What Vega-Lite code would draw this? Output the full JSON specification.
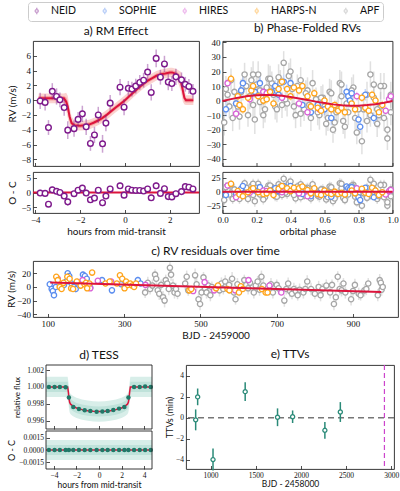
{
"$schema": "https://vega.github.io/schema/vega-lite/v6.json",
"padding": {"left": 5, "top": 1, "right": 0, "bottom": 0},
"config": {
  "view": {"stroke": "#222", "strokeWidth": 0.9},
  "axis": {"grid": false, "domain": false, "tickColor": "#222", "tickSize": -3.5, "tickWidth": 0.8, "labelFont": "Liberation Serif", "labelFontSize": 9, "labelColor": "#111", "labelPadding": 6, "labelFlush": false, "labelOverlap": false, "titleFont": "Lato", "titleFontSize": 10, "titleFontWeight": "normal", "titleColor": "#111", "titlePadding": 2},
  "title": {"font": "Lato", "fontSize": 12, "fontWeight": "normal", "color": "#111", "offset": 3}
},
"datasets": {
  "rm": [
    {"i":"NEID","h":-3.78,"v":-0.1,"e":1.1,"r":-0.2},{"i":"NEID","h":-3.56,"v":-0.3,"e":1.1,"r":-0.3},{"i":"NEID","h":-3.41,"v":-3.7,"e":1.0,"r":-4.0},{"i":"NEID","h":-3.24,"v":1.2,"e":1.1,"r":0.9},{"i":"NEID","h":-3.05,"v":0.5,"e":1.1,"r":0.4},{"i":"NEID","h":-2.9,"v":0.05,"e":1.0,"r":0.0},{"i":"NEID","h":-2.71,"v":-1.0,"e":1.1,"r":-1.2},{"i":"NEID","h":-2.55,"v":-4.05,"e":1.2,"r":-3.2},{"i":"NEID","h":-2.27,"v":-3.85,"e":1.1,"r":-0.4},{"i":"NEID","h":-2.09,"v":-2.6,"e":1.0,"r":0.8},{"i":"NEID","h":-1.9,"v":-1.85,"e":1.1,"r":1.5},{"i":"NEID","h":-1.73,"v":-3.6,"e":1.1,"r":-0.2},{"i":"NEID","h":-1.54,"v":-5.85,"e":1.0,"r":-2.5},{"i":"NEID","h":-1.36,"v":-4.7,"e":1.1,"r":-1.9},{"i":"NEID","h":-1.19,"v":-2.0,"e":1.1,"r":0.8},{"i":"NEID","h":-1.0,"v":-5.9,"e":1.2,"r":-3.5},{"i":"NEID","h":-0.85,"v":-3.1,"e":1.1,"r":-1.2},{"i":"NEID","h":-0.66,"v":-0.4,"e":1.1,"r":1.2},{"i":"NEID","h":-0.22,"v":1.75,"e":1.1,"r":2.3},{"i":"NEID","h":-0.04,"v":-0.95,"e":1.1,"r":-0.9},{"i":"NEID","h":0.15,"v":1.6,"e":1.0,"r":1.2},{"i":"NEID","h":0.31,"v":1.5,"e":1.0,"r":0.8},{"i":"NEID","h":0.48,"v":1.9,"e":1.0,"r":0.7},{"i":"NEID","h":0.66,"v":2.4,"e":1.0,"r":0.7},{"i":"NEID","h":0.83,"v":2.7,"e":1.0,"r":0.5},{"i":"NEID","h":1.01,"v":3.8,"e":1.1,"r":1.2},{"i":"NEID","h":1.17,"v":1.05,"e":1.1,"r":-1.8},{"i":"NEID","h":1.39,"v":5.65,"e":1.2,"r":2.3},{"i":"NEID","h":1.58,"v":3.1,"e":1.0,"r":-0.3},{"i":"NEID","h":1.76,"v":4.9,"e":1.1,"r":1.3},{"i":"NEID","h":1.93,"v":2.45,"e":1.1,"r":-1.4},{"i":"NEID","h":2.09,"v":2.25,"e":1.0,"r":-1.5},{"i":"NEID","h":2.27,"v":3.15,"e":1.1,"r":-0.4},{"i":"NEID","h":2.52,"v":2.75,"e":1.0,"r":0.3},{"i":"NEID","h":2.69,"v":2.15,"e":1.0,"r":2.0},{"i":"NEID","h":2.85,"v":1.85,"e":1.0,"r":1.8},{"i":"NEID","h":3.03,"v":1.2,"e":1.0,"r":1.2}
  ],
  "rmm": [
    {"h":-3.85,"m":0.25,"l1":-0.05,"u1":0.55,"l2":-0.4,"u2":0.9},{"h":-3.2,"m":0.25,"l1":-0.05,"u1":0.55,"l2":-0.4,"u2":0.9},{"h":-2.72,"m":0.25,"l1":-0.05,"u1":0.55,"l2":-0.4,"u2":0.9},{"h":-2.62,"m":-0.2,"l1":-0.8,"u1":0.4,"l2":-1.4,"u2":1.0},{"h":-2.55,"m":-0.9,"l1":-1.7,"u1":-0.1,"l2":-2.4,"u2":0.6},{"h":-2.47,"m":-2.2,"l1":-2.9,"u1":-1.5,"l2":-3.5,"u2":-0.9},{"h":-2.38,"m":-3.1,"l1":-3.5,"u1":-2.7,"l2":-3.9,"u2":-2.2},{"h":-2.25,"m":-3.4,"l1":-3.7,"u1":-3.1,"l2":-4.05,"u2":-2.75},{"h":-2.0,"m":-3.45,"l1":-3.75,"u1":-3.15,"l2":-4.1,"u2":-2.8},{"h":-1.8,"m":-3.4,"l1":-3.7,"u1":-3.1,"l2":-4.05,"u2":-2.75},{"h":-1.6,"m":-3.3,"l1":-3.6,"u1":-3.0,"l2":-3.95,"u2":-2.65},{"h":-1.4,"m":-3.05,"l1":-3.35,"u1":-2.75,"l2":-3.7,"u2":-2.4},{"h":-1.2,"m":-2.75,"l1":-3.05,"u1":-2.45,"l2":-3.4,"u2":-2.1},{"h":-1.0,"m":-2.4,"l1":-2.7,"u1":-2.1,"l2":-3.05,"u2":-1.75},{"h":-0.8,"m":-1.95,"l1":-2.25,"u1":-1.65,"l2":-2.6,"u2":-1.3},{"h":-0.6,"m":-1.45,"l1":-1.75,"u1":-1.15,"l2":-2.1,"u2":-0.8},{"h":-0.4,"m":-0.95,"l1":-1.25,"u1":-0.65,"l2":-1.6,"u2":-0.3},{"h":-0.2,"m":-0.5,"l1":-0.8,"u1":-0.2,"l2":-1.15,"u2":0.15},{"h":0.0,"m":0.0,"l1":-0.3,"u1":0.3,"l2":-0.65,"u2":0.65},{"h":0.2,"m":0.55,"l1":0.25,"u1":0.85,"l2":-0.1,"u2":1.2},{"h":0.4,"m":1.1,"l1":0.8,"u1":1.4,"l2":0.45,"u2":1.75},{"h":0.6,"m":1.65,"l1":1.35,"u1":1.95,"l2":1.0,"u2":2.3},{"h":0.8,"m":2.15,"l1":1.85,"u1":2.45,"l2":1.5,"u2":2.8},{"h":1.0,"m":2.6,"l1":2.3,"u1":2.9,"l2":1.95,"u2":3.25},{"h":1.2,"m":2.95,"l1":2.65,"u1":3.25,"l2":2.3,"u2":3.6},{"h":1.4,"m":3.3,"l1":3.0,"u1":3.6,"l2":2.65,"u2":3.95},{"h":1.6,"m":3.5,"l1":3.2,"u1":3.8,"l2":2.85,"u2":4.15},{"h":1.8,"m":3.6,"l1":3.3,"u1":3.9,"l2":2.95,"u2":4.25},{"h":2.0,"m":3.75,"l1":3.45,"u1":4.05,"l2":3.1,"u2":4.4},{"h":2.1,"m":3.75,"l1":3.45,"u1":4.05,"l2":3.1,"u2":4.4},{"h":2.27,"m":3.55,"l1":3.2,"u1":3.9,"l2":2.85,"u2":4.25},{"h":2.4,"m":3.1,"l1":2.6,"u1":3.6,"l2":2.1,"u2":4.0},{"h":2.5,"m":2.5,"l1":1.8,"u1":3.2,"l2":1.1,"u2":3.8},{"h":2.58,"m":1.3,"l1":0.5,"u1":2.1,"l2":-0.2,"u2":2.9},{"h":2.65,"m":0.3,"l1":-0.2,"u1":0.8,"l2":-0.6,"u2":1.4},{"h":2.72,"m":0.0,"l1":-0.3,"u1":0.3,"l2":-0.65,"u2":0.65},{"h":3.05,"m":0.0,"l1":-0.3,"u1":0.3,"l2":-0.65,"u2":0.65}
  ],
  "rv": [
    {"i":"APF","t":355,"c":-8,"p":0.03,"v":4,"o":4,"e":8},{"i":"APF","t":362,"c":6,"p":0.06,"v":-12,"o":-13,"e":9},{"i":"APF","t":368,"c":-3,"p":0.09,"v":-4,"o":-6,"e":8},{"i":"APF","t":374,"c":2,"p":0.12,"v":9,"o":6,"e":9},{"i":"APF","t":381,"c":18,"p":0.14,"v":10,"o":7,"e":8},{"i":"APF","t":384,"c":12,"p":0.17,"v":14,"o":10,"e":9},{"i":"APF","t":388,"c":-5,"p":0.19,"v":-13,"o":-17,"e":10},{"i":"APF","t":392,"c":-10,"p":0.21,"v":18,"o":14,"e":9},{"i":"APF","t":397,"c":3,"p":0.23,"v":2,"o":-2,"e":8},{"i":"APF","t":402,"c":-15,"p":0.25,"v":-6,"o":-10,"e":9},{"i":"APF","t":406,"c":-20,"p":0.27,"v":15,"o":11,"e":10},{"i":"APF","t":409,"c":10,"p":0.29,"v":12,"o":8,"e":8},{"i":"APF","t":413,"c":5,"p":0.31,"v":-4,"o":-8,"e":9},{"i":"APF","t":417,"c":-3,"p":0.33,"v":16,"o":13,"e":9},{"i":"APF","t":420,"c":28,"p":0.36,"v":26,"o":23,"e":8},{"i":"APF","t":423,"c":18,"p":0.38,"v":-2,"o":-4,"e":9},{"i":"APF","t":428,"c":2,"p":0.41,"v":8,"o":6,"e":10},{"i":"APF","t":432,"c":-8,"p":0.43,"v":-10,"o":-12,"e":9},{"i":"APF","t":436,"c":-3,"p":0.46,"v":14,"o":13,"e":9},{"i":"APF","t":440,"c":-10,"p":0.48,"v":-6,"o":-7,"e":8},{"i":"APF","t":460,"c":5,"p":0.5,"v":7,"o":7,"e":9},{"i":"APF","t":464,"c":15,"p":0.52,"v":-12,"o":-12,"e":9},{"i":"APF","t":468,"c":-5,"p":0.55,"v":1,"o":2,"e":8},{"i":"APF","t":486,"c":17,"p":0.57,"v":-10,"o":-9,"e":10},{"i":"APF","t":490,"c":4,"p":0.59,"v":2,"o":4,"e":9},{"i":"APF","t":495,"c":-18,"p":0.61,"v":-16,"o":-14,"e":8},{"i":"APF","t":499,"c":-25,"p":0.63,"v":6,"o":9,"e":9},{"i":"APF","t":503,"c":-8,"p":0.65,"v":-20,"o":-17,"e":9},{"i":"APF","t":508,"c":14,"p":0.67,"v":-8,"o":-5,"e":8},{"i":"APF","t":512,"c":-2,"p":0.69,"v":12,"o":15,"e":9},{"i":"APF","t":516,"c":-8,"p":0.71,"v":-14,"o":-11,"e":9},{"i":"APF","t":521,"c":2,"p":0.73,"v":-2,"o":2,"e":8},{"i":"APF","t":526,"c":-12,"p":0.77,"v":9,"o":12,"e":9},{"i":"APF","t":530,"c":0,"p":0.79,"v":-22,"o":-19,"e":8},{"i":"APF","t":550,"c":-5,"p":0.83,"v":-6,"o":-3,"e":9},{"i":"APF","t":555,"c":5,"p":0.85,"v":4,"o":7,"e":9},{"i":"APF","t":560,"c":-3,"p":0.87,"v":-10,"o":-7,"e":8},{"i":"APF","t":565,"c":8,"p":0.89,"v":11,"o":14,"e":9},{"i":"APF","t":575,"c":3,"p":0.91,"v":-16,"o":-13,"e":9},{"i":"APF","t":583,"c":12,"p":0.93,"v":-4,"o":-3,"e":10},{"i":"APF","t":588,"c":-8,"p":0.95,"v":10,"o":12,"e":9},{"i":"APF","t":592,"c":-18,"p":0.97,"v":-26,"o":-25,"e":8},{"i":"APF","t":597,"c":4,"p":0.99,"v":-8,"o":-8,"e":9},{"i":"APF","t":602,"c":-5,"p":0.02,"v":8,"o":8,"e":9},{"i":"APF","t":615,"c":10,"p":0.04,"v":-4,"o":-5,"e":8},{"i":"APF","t":620,"c":3,"p":0.07,"v":6,"o":4,"e":9},{"i":"APF","t":625,"c":-2,"p":0.1,"v":-11,"o":-13,"e":9},{"i":"APF","t":630,"c":6,"p":0.13,"v":18,"o":15,"e":8},{"i":"APF","t":640,"c":-8,"p":0.16,"v":3,"o":0,"e":9},{"i":"APF","t":645,"c":2,"p":0.18,"v":-3,"o":-6,"e":9},{"i":"APF","t":650,"c":8,"p":0.2,"v":11,"o":7,"e":8},{"i":"APF","t":655,"c":-4,"p":0.22,"v":7,"o":3,"e":9},{"i":"APF","t":660,"c":15,"p":0.24,"v":-10,"o":-14,"e":9},{"i":"APF","t":665,"c":2,"p":0.28,"v":15,"o":11,"e":9},{"i":"APF","t":680,"c":-5,"p":0.3,"v":4,"o":0,"e":8},{"i":"APF","t":685,"c":4,"p":0.32,"v":-6,"o":-9,"e":9},{"i":"APF","t":690,"c":-8,"p":0.34,"v":12,"o":9,"e":9},{"i":"APF","t":700,"c":3,"p":0.37,"v":1,"o":-2,"e":8},{"i":"APF","t":705,"c":-2,"p":0.39,"v":17,"o":15,"e":9},{"i":"APF","t":720,"c":-20,"p":0.42,"v":-4,"o":-6,"e":9},{"i":"APF","t":725,"c":-3,"p":0.44,"v":10,"o":9,"e":8},{"i":"APF","t":730,"c":5,"p":0.46,"v":-9,"o":-10,"e":9},{"i":"APF","t":735,"c":-6,"p":0.49,"v":5,"o":5,"e":9},{"i":"APF","t":740,"c":-10,"p":0.51,"v":-3,"o":-3,"e":8},{"i":"APF","t":745,"c":-3,"p":0.53,"v":12,"o":13,"e":9},{"i":"APF","t":750,"c":-6,"p":0.56,"v":-8,"o":-7,"e":9},{"i":"APF","t":755,"c":-12,"p":0.58,"v":2,"o":4,"e":8},{"i":"APF","t":760,"c":-4,"p":0.62,"v":-12,"o":-10,"e":9},{"i":"APF","t":770,"c":-8,"p":0.64,"v":5,"o":8,"e":9},{"i":"APF","t":775,"c":-3,"p":0.66,"v":-15,"o":-12,"e":8},{"i":"APF","t":780,"c":8,"p":0.68,"v":-6,"o":-3,"e":9},{"i":"APF","t":790,"c":-3,"p":0.7,"v":3,"o":6,"e":9},{"i":"APF","t":800,"c":-10,"p":0.72,"v":-18,"o":-15,"e":8},{"i":"APF","t":810,"c":0,"p":0.74,"v":-8,"o":-5,"e":9},{"i":"APF","t":815,"c":-12,"p":0.76,"v":7,"o":11,"e":9},{"i":"APF","t":820,"c":-3,"p":0.78,"v":-12,"o":-9,"e":8},{"i":"APF","t":830,"c":2,"p":0.8,"v":-6,"o":-3,"e":9},{"i":"APF","t":840,"c":-8,"p":0.82,"v":-28,"o":-25,"e":9},{"i":"APF","t":845,"c":3,"p":0.85,"v":-14,"o":-11,"e":8},{"i":"APF","t":850,"c":-25,"p":0.87,"v":18,"o":21,"e":9},{"i":"APF","t":855,"c":-15,"p":0.89,"v":2,"o":5,"e":9},{"i":"APF","t":860,"c":15,"p":0.91,"v":-6,"o":-4,"e":8},{"i":"APF","t":865,"c":-3,"p":0.93,"v":10,"o":12,"e":9},{"i":"APF","t":870,"c":-5,"p":0.95,"v":-12,"o":-10,"e":9},{"i":"APF","t":875,"c":5,"p":0.97,"v":-20,"o":-19,"e":8},{"i":"APF","t":880,"c":-8,"p":0.99,"v":4,"o":4,"e":9},{"i":"APF","t":895,"c":-18,"p":0.01,"v":-15,"o":-15,"e":9},{"i":"APF","t":900,"c":-6,"p":0.05,"v":14,"o":13,"e":8},{"i":"APF","t":905,"c":3,"p":0.08,"v":-2,"o":-4,"e":9},{"i":"APF","t":915,"c":-10,"p":0.11,"v":6,"o":4,"e":9},{"i":"APF","t":920,"c":-12,"p":0.15,"v":-10,"o":-13,"e":8},{"i":"APF","t":930,"c":-5,"p":0.18,"v":18,"o":14,"e":9},{"i":"APF","t":935,"c":-3,"p":0.22,"v":-1,"o":-5,"e":9},{"i":"APF","t":940,"c":5,"p":0.26,"v":9,"o":5,"e":8},{"i":"APF","t":965,"c":-12,"p":0.35,"v":-3,"o":-6,"e":9},{"i":"APF","t":970,"c":10,"p":0.4,"v":20,"o":18,"e":9},{"i":"APF","t":973,"c":6,"p":0.6,"v":-4,"o":-2,"e":8},{"i":"APF","t":975,"c":-4,"p":0.7,"v":11,"o":14,"e":9},{"i":"APF","t":978,"c":0,"p":0.92,"v":-10,"o":-8,"e":9},
    {"i":"SOPHIE","t":105,"c":4,"p":0.02,"v":-6,"o":-6,"e":5},{"i":"SOPHIE","t":110,"c":-3,"p":0.11,"v":7,"o":5,"e":5},{"i":"SOPHIE","t":113,"c":-6,"p":0.08,"v":-2,"o":-4,"e":5},{"i":"SOPHIE","t":116,"c":-12,"p":0.64,"v":-12,"o":-9,"e":5},{"i":"SOPHIE","t":121,"c":0,"p":0.19,"v":6,"o":2,"e":4},{"i":"SOPHIE","t":142,"c":3,"p":0.22,"v":12,"o":8,"e":5},{"i":"SOPHIE","t":148,"c":8,"p":0.29,"v":6,"o":2,"e":4},{"i":"SOPHIE","t":152,"c":20,"p":0.31,"v":10,"o":6,"e":4},{"i":"SOPHIE","t":156,"c":16,"p":0.36,"v":13,"o":10,"e":5},{"i":"SOPHIE","t":162,"c":5,"p":0.4,"v":12,"o":10,"e":5},{"i":"SOPHIE","t":168,"c":0,"p":0.47,"v":-3,"o":-4,"e":4},{"i":"SOPHIE","t":173,"c":-3,"p":0.33,"v":4,"o":1,"e":5},{"i":"SOPHIE","t":178,"c":7,"p":0.6,"v":-6,"o":-4,"e":4},{"i":"SOPHIE","t":186,"c":4,"p":0.73,"v":6,"o":9,"e":5},{"i":"SOPHIE","t":192,"c":18,"p":0.74,"v":3,"o":6,"e":5},{"i":"SOPHIE","t":197,"c":16,"p":0.75,"v":0,"o":4,"e":5},{"i":"SOPHIE","t":202,"c":12,"p":0.76,"v":5,"o":8,"e":4},{"i":"SOPHIE","t":206,"c":2,"p":0.8,"v":-13,"o":-10,"e":4},{"i":"SOPHIE","t":211,"c":-1,"p":0.81,"v":-18,"o":-15,"e":5},{"i":"SOPHIE","t":242,"c":10,"p":0.89,"v":-12,"o":-10,"e":4},{"i":"SOPHIE","t":268,"c":-5,"p":0.52,"v":-8,"o":-8,"e":5},{"i":"SOPHIE","t":292,"c":4,"p":0.56,"v":-3,"o":-2,"e":4},{"i":"SOPHIE","t":336,"c":10,"p":0.12,"v":12,"o":10,"e":5},{"i":"SOPHIE","t":343,"c":5,"p":0.84,"v":4,"o":7,"e":4},
    {"i":"HIRES","t":126,"c":12,"p":0.03,"v":12,"o":11,"e":3},{"i":"HIRES","t":191,"c":10,"p":0.08,"v":-9,"o":-10,"e":3},{"i":"HIRES","t":211,"c":-2,"p":0.16,"v":1,"o":-2,"e":3},{"i":"HIRES","t":231,"c":9,"p":0.24,"v":6,"o":2,"e":3},{"i":"HIRES","t":266,"c":8,"p":0.26,"v":5,"o":1,"e":3},{"i":"HIRES","t":356,"c":3,"p":0.5,"v":-8,"o":-8,"e":3},{"i":"HIRES","t":481,"c":-6,"p":0.57,"v":-6,"o":-5,"e":3},{"i":"HIRES","t":511,"c":7,"p":0.79,"v":3,"o":6,"e":3},{"i":"HIRES","t":536,"c":-5,"p":0.96,"v":-7,"o":-5,"e":3},{"i":"HIRES","t":591,"c":-5,"p":0.98,"v":1,"o":1,"e":3},{"i":"HIRES","t":626,"c":10,"p":0.99,"v":3,"o":3,"e":3},{"i":"HIRES","t":681,"c":2,"p":0.35,"v":2,"o":-1,"e":3},{"i":"HIRES","t":712,"c":-8,"p":0.45,"v":-2,"o":-3,"e":3},
    {"i":"HARPS-N","t":122,"c":15,"p":0.05,"v":15,"o":14,"e":3},{"i":"HARPS-N","t":126,"c":10,"p":0.09,"v":3,"o":1,"e":3},{"i":"HARPS-N","t":131,"c":0,"p":0.1,"v":-3,"o":-5,"e":3},{"i":"HARPS-N","t":136,"c":-3,"p":0.12,"v":-6,"o":-8,"e":3},{"i":"HARPS-N","t":141,"c":6,"p":0.15,"v":2,"o":-1,"e":3},{"i":"HARPS-N","t":151,"c":15,"p":0.17,"v":7,"o":4,"e":3},{"i":"HARPS-N","t":157,"c":12,"p":0.21,"v":3,"o":-1,"e":3},{"i":"HARPS-N","t":161,"c":-2,"p":0.24,"v":0,"o":-4,"e":3},{"i":"HARPS-N","t":166,"c":-3,"p":0.26,"v":1,"o":-3,"e":3},{"i":"HARPS-N","t":176,"c":8,"p":0.28,"v":6,"o":2,"e":3},{"i":"HARPS-N","t":186,"c":2,"p":0.3,"v":-2,"o":-6,"e":3},{"i":"HARPS-N","t":196,"c":4,"p":0.33,"v":8,"o":5,"e":3},{"i":"HARPS-N","t":200,"c":6,"p":0.18,"v":10,"o":6,"e":3},{"i":"HARPS-N","t":203,"c":-2,"p":0.35,"v":13,"o":10,"e":3},{"i":"HARPS-N","t":209,"c":5,"p":0.38,"v":8,"o":6,"e":3},{"i":"HARPS-N","t":216,"c":21,"p":0.4,"v":3,"o":1,"e":3},{"i":"HARPS-N","t":251,"c":5,"p":0.42,"v":9,"o":7,"e":3},{"i":"HARPS-N","t":262,"c":8,"p":0.45,"v":7,"o":6,"e":3},{"i":"HARPS-N","t":281,"c":5,"p":0.47,"v":10,"o":9,"e":3},{"i":"HARPS-N","t":289,"c":17,"p":0.5,"v":3,"o":3,"e":3},{"i":"HARPS-N","t":295,"c":12,"p":0.52,"v":-4,"o":-3,"e":3},{"i":"HARPS-N","t":301,"c":-2,"p":0.54,"v":5,"o":6,"e":3},{"i":"HARPS-N","t":305,"c":8,"p":0.56,"v":-5,"o":-4,"e":3},{"i":"HARPS-N","t":310,"c":3,"p":0.58,"v":-7,"o":-6,"e":3},{"i":"HARPS-N","t":316,"c":5,"p":0.6,"v":0,"o":2,"e":3},{"i":"HARPS-N","t":321,"c":2,"p":0.62,"v":-4,"o":-2,"e":3},{"i":"HARPS-N","t":326,"c":0,"p":0.64,"v":-6,"o":-4,"e":3},{"i":"HARPS-N","t":331,"c":5,"p":0.66,"v":-3,"o":0,"e":3},{"i":"HARPS-N","t":471,"c":-5,"p":0.68,"v":-7,"o":-4,"e":3},{"i":"HARPS-N","t":476,"c":-3,"p":0.7,"v":-5,"o":-2,"e":3},{"i":"HARPS-N","t":541,"c":-2,"p":0.72,"v":-8,"o":-5,"e":3},{"i":"HARPS-N","t":546,"c":2,"p":0.76,"v":-2,"o":2,"e":3},{"i":"HARPS-N","t":571,"c":-3,"p":0.78,"v":-6,"o":-3,"e":3},{"i":"HARPS-N","t":576,"c":-5,"p":0.82,"v":2,"o":5,"e":3},{"i":"HARPS-N","t":601,"c":-8,"p":0.84,"v":-5,"o":-2,"e":3},{"i":"HARPS-N","t":606,"c":1,"p":0.86,"v":-7,"o":-4,"e":3},{"i":"HARPS-N","t":611,"c":-3,"p":0.88,"v":4,"o":7,"e":3},{"i":"HARPS-N","t":661,"c":-3,"p":0.9,"v":0,"o":2,"e":3},{"i":"HARPS-N","t":671,"c":-8,"p":0.92,"v":-8,"o":-6,"e":3},{"i":"HARPS-N","t":676,"c":-8,"p":0.94,"v":-3,"o":-1,"e":3}
  ],
  "orb": [
    {"p":0.0,"m":-0.3},{"p":0.05,"m":1.0},{"p":0.1,"m":2.2},{"p":0.15,"m":3.1},{"p":0.2,"m":3.7},{"p":0.25,"m":3.9},{"p":0.3,"m":3.8},{"p":0.35,"m":3.3},{"p":0.4,"m":2.5},{"p":0.45,"m":1.5},{"p":0.5,"m":0.4},{"p":0.55,"m":-0.7},{"p":0.6,"m":-1.7},{"p":0.65,"m":-2.6},{"p":0.7,"m":-3.2},{"p":0.75,"m":-3.5},{"p":0.8,"m":-3.5},{"p":0.85,"m":-3.1},{"p":0.9,"m":-2.5},{"p":0.95,"m":-1.5},{"p":1.0,"m":-0.3}
  ],
  "zero": [{"y": 0}],
  "trend": [{"t": 106, "y": 6.5}, {"t": 974, "y": -7.5}],
  "tm": [
    {"h":-4.55,"f":1.0},{"h":-2.78,"f":1.0},{"h":-2.72,"f":0.9994},{"h":-2.66,"f":0.9986},{"h":-2.6,"f":0.99815},{"h":-2.52,"f":0.99795},{"h":-2.3,"f":0.99772},{"h":-2.0,"f":0.9975},{"h":-1.5,"f":0.9973},{"h":-1.0,"f":0.99718},{"h":-0.5,"f":0.9971},{"h":0,"f":0.99707},{"h":0.5,"f":0.9971},{"h":1.0,"f":0.99718},{"h":1.5,"f":0.9973},{"h":2.0,"f":0.9975},{"h":2.3,"f":0.99772},{"h":2.52,"f":0.99795},{"h":2.6,"f":0.99815},{"h":2.66,"f":0.9986},{"h":2.72,"f":0.9994},{"h":2.78,"f":1.0},{"h":4.6,"f":1.0}
  ],
  "tb": [
    {"h":-4.7,"l2":0.9988,"u2":1.0012,"l1":0.9994,"u1":1.0006},{"h":-2.78,"l2":0.9988,"u2":1.0012,"l1":0.9994,"u1":1.0006},{"h":-2.72,"l2":0.9982,"u2":1.0006,"l1":0.9988,"u1":1.0},{"h":-2.66,"l2":0.9974,"u2":0.9998,"l1":0.998,"u1":0.9992},{"h":-2.6,"l2":0.99695,"u2":0.99935,"l1":0.99755,"u1":0.99875},{"h":-2.52,"l2":0.99675,"u2":0.99915,"l1":0.99735,"u1":0.99855},{"h":-2.3,"l2":0.99652,"u2":0.99892,"l1":0.99712,"u1":0.99832},{"h":-2.0,"l2":0.9963,"u2":0.9987,"l1":0.9969,"u1":0.9981},{"h":-1.5,"l2":0.9961,"u2":0.9985,"l1":0.9967,"u1":0.9979},{"h":-1.0,"l2":0.99598,"u2":0.99838,"l1":0.99658,"u1":0.99778},{"h":-0.5,"l2":0.9959,"u2":0.9983,"l1":0.9965,"u1":0.9977},{"h":0,"l2":0.99587,"u2":0.99827,"l1":0.99647,"u1":0.99767},{"h":0.5,"l2":0.9959,"u2":0.9983,"l1":0.9965,"u1":0.9977},{"h":1.0,"l2":0.99598,"u2":0.99838,"l1":0.99658,"u1":0.99778},{"h":1.5,"l2":0.9961,"u2":0.9985,"l1":0.9967,"u1":0.9979},{"h":2.0,"l2":0.9963,"u2":0.9987,"l1":0.9969,"u1":0.9981},{"h":2.3,"l2":0.99652,"u2":0.99892,"l1":0.99712,"u1":0.99832},{"h":2.52,"l2":0.99675,"u2":0.99915,"l1":0.99735,"u1":0.99855},{"h":2.6,"l2":0.99695,"u2":0.99935,"l1":0.99755,"u1":0.99875},{"h":2.66,"l2":0.9974,"u2":0.9998,"l1":0.998,"u1":0.9992},{"h":2.72,"l2":0.9982,"u2":1.0006,"l1":0.9988,"u1":1.0},{"h":2.78,"l2":0.9988,"u2":1.0012,"l1":0.9994,"u1":1.0006},{"h":4.7,"l2":0.9988,"u2":1.0012,"l1":0.9994,"u1":1.0006}
  ],
  "tlb": [{"h":-4.7,"l2":-0.0012,"u2":0.0012,"l1":-0.0006,"u1":0.0006},{"h":4.7,"l2":-0.0012,"u2":0.0012,"l1":-0.0006,"u1":0.0006}],
  "tbin": [
    {"h":-4.44,"f":1.0,"r":0},{"h":-3.94,"f":1.0,"r":0},{"h":-3.47,"f":1.0,"r":0},{"h":-2.96,"f":0.99995,"r":0},{"h":-2.67,"f":0.99875,"r":0},{"h":-2.28,"f":0.9976,"r":0},{"h":-1.78,"f":0.99737,"r":0},{"h":-1.27,"f":0.99722,"r":0},{"h":-0.77,"f":0.99714,"r":0},{"h":-0.21,"f":0.99705,"r":0},{"h":0.3,"f":0.99707,"r":0},{"h":0.77,"f":0.99714,"r":0},{"h":1.27,"f":0.99725,"r":0},{"h":1.78,"f":0.99742,"r":0},{"h":2.25,"f":0.99762,"r":0},{"h":2.61,"f":0.99875,"r":0},{"h":3.11,"f":0.99998,"r":0},{"h":3.61,"f":1.0,"r":0},{"h":4.09,"f":1.00005,"r":0},{"h":4.59,"f":1.0,"r":0}
  ],
  "ttv": [
    {"x":835,"y":-0.2,"e":1.0},{"x":857,"y":2.0,"e":0.8},{"x":1027,"y":-4.0,"e":1.05},{"x":1383,"y":2.5,"e":0.9},{"x":1741,"y":0.05,"e":0.85},{"x":1908,"y":0.1,"e":0.6},{"x":2265,"y":-1.2,"e":0.8},{"x":2436,"y":0.55,"e":0.95}
  ],
  "epoch": [{"x": 2924}]
},
"resolve": {"scale": {"color": "shared"}, "legend": {"color": "shared"}},
"columns": 1,
"spacing": 7,
"concat": [
  {
    "concat": [
      {
        "vconcat": [
          {
            "title": "a) RM Effect",
            "width": 166, "height": 125,
            "layer": [
              {"data": {"name": "rmm"}, "mark": {"type": "area", "color": "#fbd3d0", "opacity": 1},
               "encoding": {
                 "x": {"field": "h", "type": "quantitative", "scale": {"domain": [-4.1, 3.3], "nice": false, "zero": false}, "axis": {"labels": false, "title": null, "values": [-4, -2, 0, 2], "tickCount": 20}},
                 "y": {"field": "l2", "type": "quantitative", "title": "RV (m/s)", "scale": {"domain": [-8.9, 8.0], "nice": false, "zero": false}, "axis": {"title": "RV (m/s)", "values": [-8, -6, -4, -2, 0, 2, 4, 6], "tickCount": 20, "format": "d", "labelOverlap": false, "minExtent": 14, "maxExtent": 14}},
                 "y2": {"field": "u2"}}},
              {"data": {"name": "rmm"}, "mark": {"type": "area", "color": "#f6a3a0", "opacity": 1},
               "encoding": {"x": {"field": "h", "type": "quantitative"}, "y": {"field": "l1", "type": "quantitative", "title": "RV (m/s)"}, "y2": {"field": "u1"}}},
              {"data": {"name": "rmm"}, "mark": {"type": "line", "color": "#dc143c", "strokeWidth": 2},
               "encoding": {"x": {"field": "h", "type": "quantitative"}, "y": {"field": "m", "type": "quantitative", "title": "RV (m/s)"}}},
              {"data": {"name": "rm"}, "mark": {"type": "errorbar", "opacity": 0.4, "thickness": 1.5},
               "encoding": {"x": {"field": "h", "type": "quantitative"}, "y": {"field": "v", "type": "quantitative", "title": "RV (m/s)"}, "yError": {"field": "e"},
                 "color": {"field": "i", "type": "nominal", "scale": {"domain": ["NEID", "SOPHIE", "HIRES", "HARPS-N", "APF"], "range": ["#7e1a8c", "#5b8def", "#d95fd6", "#ffa41b", "#a6a6a6"]}}}},
              {"data": {"name": "rm"}, "mark": {"type": "point", "shape": "circle", "filled": false, "fill": "white", "strokeWidth": 1.4, "size": 32, "opacity": 1},
               "encoding": {"x": {"field": "h", "type": "quantitative"}, "y": {"field": "v", "type": "quantitative", "title": "RV (m/s)"},
                 "color": {"field": "i", "type": "nominal", "scale": {"domain": ["NEID", "SOPHIE", "HIRES", "HARPS-N", "APF"], "range": ["#7e1a8c", "#5b8def", "#d95fd6", "#ffa41b", "#a6a6a6"]},
                   "legend": {"title": null, "orient": "none", "legendX": -5, "legendY": -39, "direction": "horizontal", "columns": 5, "columnPadding": 23, "symbolType": "M-0.5,0A0.5,0.5,0,1,1,0.5,0A0.5,0.5,0,1,1,-0.5,0ZM0,-0.5L0,-1.1M0,0.5L0,1.1", "symbolSize": 36, "symbolStrokeWidth": 1.5, "symbolFillColor": "white", "labelFont": "Lato", "labelFontSize": 10.5, "labelColor": "#111", "labelOffset": 9, "strokeColor": "#cccccc", "fillColor": "white", "cornerRadius": 3, "padding": 3.5}}}}
            ]
          },
          {
            "width": 166, "height": 41,
            "layer": [
              {"data": {"name": "rm"}, "mark": {"type": "errorbar", "opacity": 0.4, "thickness": 1.5},
               "encoding": {
                 "x": {"field": "h", "type": "quantitative", "title": "hours from mid-transit", "scale": {"domain": [-4.1, 3.3], "nice": false, "zero": false}, "axis": {"title": "hours from mid-transit", "values": [-4, -2, 0, 2], "tickCount": 20, "format": "d", "labelOverlap": false}},
                 "y": {"field": "r", "type": "quantitative", "title": "O - C", "scale": {"domain": [-7, 7], "nice": false, "zero": false}, "axis": {"title": "O - C", "values": [-5, 0, 5], "tickCount": 20, "format": "d", "labelOverlap": false, "minExtent": 14, "maxExtent": 14}},
                 "yError": {"field": "e"},
                 "color": {"field": "i", "type": "nominal", "scale": {"domain": ["NEID", "SOPHIE", "HIRES", "HARPS-N", "APF"], "range": ["#7e1a8c", "#5b8def", "#d95fd6", "#ffa41b", "#a6a6a6"]}}}},
              {"data": {"name": "zero"}, "mark": {"type": "rule", "color": "#dc143c", "strokeWidth": 2},
               "encoding": {"y": {"field": "y", "type": "quantitative", "title": "O - C"}}},
              {"data": {"name": "rm"}, "mark": {"type": "point", "shape": "circle", "filled": false, "fill": "white", "strokeWidth": 1.4, "size": 32, "opacity": 1},
               "encoding": {"x": {"field": "h", "type": "quantitative", "title": "hours from mid-transit"}, "y": {"field": "r", "type": "quantitative", "title": "O - C"},
                 "color": {"field": "i", "type": "nominal", "scale": {"domain": ["NEID", "SOPHIE", "HIRES", "HARPS-N", "APF"], "range": ["#7e1a8c", "#5b8def", "#d95fd6", "#ffa41b", "#a6a6a6"]}}}}
            ]
          }
        ],
        "spacing": 6, "bounds": "flush",
        "resolve": {"scale": {"color": "shared"}, "legend": {"color": "shared"}}
      },
      {
        "vconcat": [
          {
            "title": "b) Phase-Folded RVs",
            "width": 170, "height": 125,
            "layer": [
              {"data": {"name": "rv"}, "mark": {"type": "errorbar", "opacity": 0.35, "thickness": 1.5},
               "encoding": {
                 "x": {"field": "p", "type": "quantitative", "scale": {"domain": [0, 1], "nice": false}, "axis": {"labels": false, "title": null, "values": [0, 0.2, 0.4, 0.6, 0.8, 1], "tickCount": 20}},
                 "y": {"field": "v", "type": "quantitative", "scale": {"domain": [-45, 41], "nice": false, "zero": false}, "axis": {"title": null, "values": [-40, -30, -20, -10, 0, 10, 20, 30, 40], "tickCount": 20, "format": "d", "labelOverlap": false}},
                 "yError": {"field": "e"},
                 "color": {"field": "i", "type": "nominal", "scale": {"domain": ["NEID", "SOPHIE", "HIRES", "HARPS-N", "APF"], "range": ["#7e1a8c", "#5b8def", "#d95fd6", "#ffa41b", "#a6a6a6"]}}}},
              {"data": {"name": "rv"}, "mark": {"type": "point", "shape": "circle", "filled": false, "fill": "white", "strokeWidth": 1.3, "size": 28, "opacity": 1},
               "encoding": {"x": {"field": "p", "type": "quantitative"}, "y": {"field": "v", "type": "quantitative"},
                 "color": {"field": "i", "type": "nominal", "scale": {"domain": ["NEID", "SOPHIE", "HIRES", "HARPS-N", "APF"], "range": ["#7e1a8c", "#5b8def", "#d95fd6", "#ffa41b", "#a6a6a6"]}}}},
              {"data": {"name": "orb"}, "mark": {"type": "line", "color": "#dc143c", "strokeWidth": 2},
               "encoding": {"x": {"field": "p", "type": "quantitative"}, "y": {"field": "m", "type": "quantitative"}}}
            ]
          },
          {
            "width": 170, "height": 41,
            "layer": [
              {"data": {"name": "rv"}, "mark": {"type": "errorbar", "opacity": 0.35, "thickness": 1.5},
               "encoding": {
                 "x": {"field": "p", "type": "quantitative", "title": "orbital phase", "scale": {"domain": [0, 1], "nice": false}, "axis": {"title": "orbital phase", "values": [0, 0.2, 0.4, 0.6, 0.8, 1], "tickCount": 20, "format": ".1f", "labelOverlap": false}},
                 "y": {"field": "o", "type": "quantitative", "scale": {"domain": [-38, 35], "nice": false, "zero": false}, "axis": {"title": null, "values": [-25, 0, 25], "tickCount": 20, "format": "d", "labelOverlap": false}},
                 "yError": {"field": "e"},
                 "color": {"field": "i", "type": "nominal", "scale": {"domain": ["NEID", "SOPHIE", "HIRES", "HARPS-N", "APF"], "range": ["#7e1a8c", "#5b8def", "#d95fd6", "#ffa41b", "#a6a6a6"]}}}},
              {"data": {"name": "rv"}, "mark": {"type": "point", "shape": "circle", "filled": false, "fill": "white", "strokeWidth": 1.3, "size": 28, "opacity": 1},
               "encoding": {"x": {"field": "p", "type": "quantitative", "title": "orbital phase"}, "y": {"field": "o", "type": "quantitative"},
                 "color": {"field": "i", "type": "nominal", "scale": {"domain": ["NEID", "SOPHIE", "HIRES", "HARPS-N", "APF"], "range": ["#7e1a8c", "#5b8def", "#d95fd6", "#ffa41b", "#a6a6a6"]}}}},
              {"data": {"name": "zero"}, "mark": {"type": "rule", "color": "#dc143c", "strokeWidth": 2},
               "encoding": {"y": {"field": "y", "type": "quantitative"}}}
            ]
          }
        ],
        "spacing": 6, "bounds": "flush",
        "resolve": {"scale": {"color": "shared"}, "legend": {"color": "shared"}}
      }
    ],
    "columns": 2,
    "spacing": 3.5,
    "resolve": {"scale": {"color": "shared"}, "legend": {"color": "shared"}}
  },
  {
    "concat": [
      {
        "title": "c) RV residuals over time",
        "width": 365, "height": 56,
        "layer": [
          {"data": {"name": "rv"}, "mark": {"type": "errorbar", "opacity": 0.35, "thickness": 1.5},
           "encoding": {
             "x": {"field": "t", "type": "quantitative", "title": "BJD - 2459000", "scale": {"domain": [61, 1018], "nice": false, "zero": false}, "axis": {"title": "BJD - 2459000", "values": [100, 300, 500, 700, 900], "tickCount": 20, "format": "d", "labelOverlap": false}},
             "y": {"field": "c", "type": "quantitative", "title": "RV (m/s)", "scale": {"domain": [-44, 38], "nice": false, "zero": false}, "axis": {"title": "RV (m/s)", "values": [-40, -20, 0, 20], "tickCount": 20, "format": "d", "labelOverlap": false, "minExtent": 15, "maxExtent": 15}},
             "yError": {"field": "e"},
             "color": {"field": "i", "type": "nominal", "scale": {"domain": ["NEID", "SOPHIE", "HIRES", "HARPS-N", "APF"], "range": ["#7e1a8c", "#5b8def", "#d95fd6", "#ffa41b", "#a6a6a6"]}}}},
          {"data": {"name": "rv"}, "mark": {"type": "point", "shape": "circle", "filled": false, "fill": "white", "strokeWidth": 1.3, "size": 28, "opacity": 1},
           "encoding": {"x": {"field": "t", "type": "quantitative", "title": "BJD - 2459000"}, "y": {"field": "c", "type": "quantitative", "title": "RV (m/s)"},
             "color": {"field": "i", "type": "nominal", "scale": {"domain": ["NEID", "SOPHIE", "HIRES", "HARPS-N", "APF"], "range": ["#7e1a8c", "#5b8def", "#d95fd6", "#ffa41b", "#a6a6a6"]}}}},
          {"data": {"name": "trend"}, "mark": {"type": "line", "color": "#dc143c", "strokeWidth": 2},
           "encoding": {"x": {"field": "t", "type": "quantitative", "title": "BJD - 2459000"}, "y": {"field": "y", "type": "quantitative", "title": "RV (m/s)"}}}
        ]
      },
      {
        "concat": [
          {
            "vconcat": [
              {
                "title": {"text": "d) TESS", "dx": 6.5},
                "width": 119, "height": 64,
                "view": {"stroke": null},
                "layer": [
                  {"data": {"name": "tb"}, "mark": {"type": "area", "color": "#d8eee9", "opacity": 1},
                   "encoding": {
                     "x": {"field": "h", "type": "quantitative", "scale": {"domain": [-5.853, 4.7], "nice": false, "zero": false}, "axis": {"labels": false, "title": null, "values": [-4, -2, 0, 2, 4], "tickCount": 20}},
                     "y": {"field": "l2", "type": "quantitative", "title": "relative flux", "scale": {"domain": [0.995, 1.0026], "nice": false, "zero": false}, "axis": {"title": "relative flux", "offset": -13, "titleFontSize": 8, "labelFontSize": 7.5, "values": [0.996, 0.998, 1.0, 1.002], "tickCount": 20, "format": ".3f", "labelOverlap": false, "minExtent": 22, "maxExtent": 22, "titlePadding": 3}},
                     "y2": {"field": "u2"}}},
                  {"data": {"name": "tb"}, "mark": {"type": "area", "color": "#bfe2da", "opacity": 1},
                   "encoding": {"x": {"field": "h", "type": "quantitative"}, "y": {"field": "l1", "type": "quantitative", "title": "relative flux"}, "y2": {"field": "u1"}}},
                  {"data": {"name": "tm"}, "mark": {"type": "line", "color": "#dc143c", "strokeWidth": 1.5},
                   "encoding": {"x": {"field": "h", "type": "quantitative"}, "y": {"field": "f", "type": "quantitative", "title": "relative flux"}}},
                  {"data": {"name": "tbin"}, "mark": {"type": "point", "shape": "circle", "filled": true, "color": "#1f7868", "size": 20, "opacity": 1},
                   "encoding": {"x": {"field": "h", "type": "quantitative"}, "y": {"field": "f", "type": "quantitative", "title": "relative flux"}}},
                  {"data": {"name": "zero"}, "mark": {"type": "rect", "filled": false, "color": "#222", "strokeWidth": 0.9},
                   "encoding": {"x": {"datum": -4.7, "type": "quantitative"}, "x2": {"datum": 4.7}, "y": {"datum": 0.995, "type": "quantitative", "title": "relative flux"}, "y2": {"datum": 1.0026}}}
                ]
              },
              {
                "width": 119, "height": 38,
                "view": {"stroke": null},
                "layer": [
                  {"data": {"name": "tlb"}, "mark": {"type": "area", "color": "#d8eee9", "opacity": 1},
                   "encoding": {
                     "x": {"field": "h", "type": "quantitative", "title": "hours from mid-transit", "scale": {"domain": [-5.853, 4.7], "nice": false, "zero": false}, "axis": {"title": "hours from mid-transit", "titleX": 66, "titleFontSize": 8.5, "titlePadding": 1, "labelFontSize": 7.5, "values": [-4, -2, 0, 2, 4], "tickCount": 20, "format": "d", "labelOverlap": false}},
                     "y": {"field": "l2", "type": "quantitative", "title": "O - C", "scale": {"domain": [-0.0023, 0.0023], "nice": false, "zero": false}, "axis": {"title": "O - C", "offset": -13, "titleFontSize": 9, "labelFontSize": 7.5, "values": [-0.0015, 0, 0.0015], "tickCount": 20, "format": ".4f", "labelOverlap": false, "minExtent": 27.5, "maxExtent": 27.5, "titlePadding": 2.5}},
                     "y2": {"field": "u2"}}},
                  {"data": {"name": "tlb"}, "mark": {"type": "area", "color": "#bfe2da", "opacity": 1},
                   "encoding": {"x": {"field": "h", "type": "quantitative", "title": "hours from mid-transit"}, "y": {"field": "l1", "type": "quantitative", "title": "O - C"}, "y2": {"field": "u1"}}},
                  {"data": {"name": "tlb"}, "mark": {"type": "rule", "color": "#dc143c", "strokeWidth": 1.5},
                   "encoding": {"x": {"field": "h", "type": "quantitative", "title": "hours from mid-transit"}, "x2": {"datum": -4.7}, "y": {"datum": 0, "type": "quantitative", "title": "O - C"}}},
                  {"data": {"name": "tbin"}, "mark": {"type": "point", "shape": "circle", "filled": true, "color": "#1f7868", "size": 20, "opacity": 1},
                   "encoding": {"x": {"field": "h", "type": "quantitative", "title": "hours from mid-transit"}, "y": {"field": "r", "type": "quantitative", "title": "O - C"}}},
                  {"data": {"name": "zero"}, "mark": {"type": "rect", "filled": false, "color": "#222", "strokeWidth": 0.9},
                   "encoding": {"x": {"datum": -4.7, "type": "quantitative"}, "x2": {"datum": 4.7}, "y": {"datum": -0.0023, "type": "quantitative", "title": "O - C"}, "y2": {"datum": 0.0023}}}
                ]
              }
            ],
            "spacing": 2, "bounds": "flush"
          },
          {
            "title": "e) TTVs",
            "width": 208, "height": 104,
            "layer": [
              {"data": {"name": "zero"}, "mark": {"type": "rule", "color": "#777777", "strokeWidth": 1.5, "strokeDash": [6, 4]},
               "encoding": {"y": {"field": "y", "type": "quantitative", "title": "TTVs (min)", "scale": {"domain": [-4.9, 5.05], "nice": false, "zero": false}, "axis": {"title": "TTVs (min)", "titleFontSize": 9, "labelFontSize": 7.5, "values": [-4, -2, 0, 2, 4], "tickCount": 20, "format": "d", "labelOverlap": false, "minExtent": 9, "maxExtent": 9, "titlePadding": 2.5}}}},
              {"data": {"name": "epoch"}, "mark": {"type": "rule", "color": "#cc44cc", "strokeWidth": 1.2, "strokeDash": [5, 3]},
               "encoding": {"x": {"field": "x", "type": "quantitative", "title": "BJD - 2458000", "scale": {"domain": [728, 3030], "nice": false, "zero": false}, "axis": {"title": "BJD - 2458000", "titleFontSize": 8.5, "titlePadding": 0, "labelFontSize": 7.5, "values": [1000, 1500, 2000, 2500, 3000], "tickCount": 20, "format": "d", "labelOverlap": false}}}},
              {"data": {"name": "ttv"}, "mark": {"type": "errorbar", "color": "#2a8a78", "thickness": 1.5},
               "encoding": {"x": {"field": "x", "type": "quantitative", "title": "BJD - 2458000"}, "y": {"field": "y", "type": "quantitative", "title": "TTVs (min)"}, "yError": {"field": "e"}}},
              {"data": {"name": "ttv"}, "mark": {"type": "point", "shape": "circle", "filled": false, "fill": "white", "color": "#2a8a78", "strokeWidth": 1.3, "size": 17, "opacity": 1},
               "encoding": {"x": {"field": "x", "type": "quantitative", "title": "BJD - 2458000"}, "y": {"field": "y", "type": "quantitative", "title": "TTVs (min)"}}}
            ]
          }
        ],
        "columns": 2,
        "spacing": 11
      }
    ],
    "columns": 1,
    "spacing": 6,
    "resolve": {"scale": {"color": "shared"}, "legend": {"color": "shared"}}
  }
]
}
